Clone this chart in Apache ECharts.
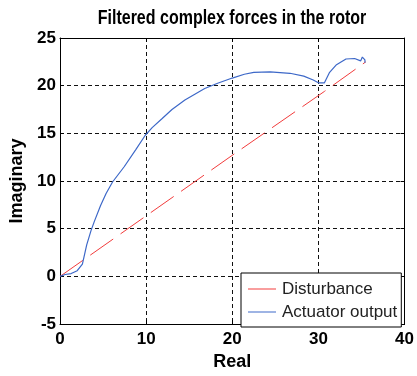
<!DOCTYPE html>
<html>
<head>
<meta charset="utf-8">
<script src="https://cdn.jsdelivr.net/npm/echarts@6/dist/echarts.min.js"></script>
<style>html,body{margin:0;padding:0;background:#fff;}#c{width:417px;height:376px;}</style>
</head>
<body>
<div id="c"></div>
<script>
var titleText = 'Filtered complex forces in the rotor';
var xName = 'Real';
var yName = 'Imaginary';
var seriesNames = ['Disturbance', 'Actuator output'];
var xTicks = [0, 10, 20, 30, 40];
var yTicks = [-5, 0, 5, 10, 15, 20, 25];

var disturbanceReal = [0, 10, 20, 30.7, 35.5];
var disturbanceImag = [0, 6.35, 12.7, 19.4, 22.5];

var actuatorReal = [0, 0.6, 1.3, 2.0, 2.6, 3.1, 3.6, 4.0, 4.7, 5.35, 6.1, 7.45, 8.8, 9.9, 10.7, 11.8, 13.0, 14.5, 16.8, 18.3, 20.0, 21.4, 22.5, 24.4, 26.7, 28.3, 29.4, 30.0, 30.7, 31.3, 32.1, 33.2, 34.2, 34.9, 35.1, 35.4, 35.4];
var actuatorImag = [0, 0.2, 0.3, 0.6, 1.3, 3.3, 4.8, 5.8, 7.4, 8.7, 9.9, 11.5, 13.3, 14.8, 15.6, 16.5, 17.5, 18.5, 19.7, 20.25, 20.8, 21.2, 21.4, 21.45, 21.3, 21.0, 20.6, 20.3, 20.3, 21.4, 22.2, 22.8, 22.85, 22.6, 23.0, 22.7, 22.4];

function pairs(xs, ys) { return xs.map(function (x, i) { return [x, ys[i]]; }); }

var F = '"Liberation Sans", Arial, sans-serif';
var chart = echarts.init(document.getElementById('c'), null, {renderer: 'canvas'});
var gridDash = {show: true, lineStyle: {color: '#111', type: [4, 3], width: 1}};
var boxLine = {show: true, onZero: false, lineStyle: {color: '#000', width: 1}};
chart.setOption({
  animation: false,
  backgroundColor: '#fff',
  graphic: [{
    type: 'text', x: 232, y: 18, scaleX: 0.8, z: 10,
    style: {text: titleText, fontFamily: F, fontWeight: 'bold', fontSize: 20, fill: '#000',
      textAlign: 'center', textVerticalAlign: 'middle'}
  }],
  grid: {left: 60, right: 8, top: 38, bottom: 45, containLabel: false},
  legend: {
    orient: 'vertical', left: 241, top: 273,
    padding: [6, 4, 5, 7], itemGap: 3, itemWidth: 28, itemHeight: 12,
    backgroundColor: '#fff', borderColor: '#000', borderWidth: 1,
    icon: 'path://M0,5L28,5L28,6L0,6Z',
    textStyle: {fontFamily: F, fontSize: 17, color: '#222', lineHeight: 20, padding: [0, 0, 0, 1]},
    itemTextGap: 8,
    data: seriesNames
  },
  xAxis: [{
    type: 'value', min: 0, max: 40, interval: 10,
    name: xName, nameLocation: 'middle', nameGap: 25,
    nameTextStyle: {fontFamily: F, fontWeight: 'bold', fontSize: 18, color: '#000'},
    axisLine: boxLine,
    axisTick: {inside: true, length: 4, lineStyle: {color: '#000'}},
    axisLabel: {fontFamily: F, fontWeight: 'bold', fontSize: 17, color: '#000', margin: 7,
      formatter: function (v) { return xTicks.indexOf(v) >= 0 ? String(v) : ''; }},
    splitLine: gridDash
  }, {
    type: 'value', min: 0, max: 40, interval: 10, position: 'top',
    axisLine: boxLine,
    axisTick: {inside: true, length: 4, lineStyle: {color: '#000'}},
    axisLabel: {show: false}, splitLine: {show: false}
  }],
  yAxis: [{
    type: 'value', min: -5, max: 25, interval: 5,
    name: yName, nameLocation: 'middle', nameGap: 23,
    nameTextStyle: {fontFamily: F, fontWeight: 'bold', fontSize: 18, color: '#000'},
    axisLine: boxLine,
    axisTick: {show: true, inside: true, length: 4, lineStyle: {color: '#000'}},
    axisLabel: {fontFamily: F, fontWeight: 'bold', fontSize: 17, color: '#000', margin: 4,
      formatter: function (v) { return yTicks.indexOf(v) >= 0 ? String(v) : ''; }},
    splitLine: gridDash
  }, {
    type: 'value', min: -5, max: 25, interval: 5, position: 'right',
    axisLine: boxLine,
    axisTick: {show: true, inside: true, length: 4, lineStyle: {color: '#000'}},
    axisLabel: {show: false}, splitLine: {show: false}
  }],
  series: [{
    name: seriesNames[0], type: 'line', symbol: 'none', z: 3,
    data: pairs(disturbanceReal, disturbanceImag),
    lineStyle: {color: '#f23c3c', width: 1, type: [28, 9]},
    itemStyle: {color: '#f23c3c'}
  }, {
    name: seriesNames[1], type: 'line', symbol: 'none', z: 4,
    data: pairs(actuatorReal, actuatorImag),
    lineStyle: {color: '#3d68c8', width: 1.2},
    itemStyle: {color: '#3d68c8'}
  }]
});
</script>
</body>
</html>
